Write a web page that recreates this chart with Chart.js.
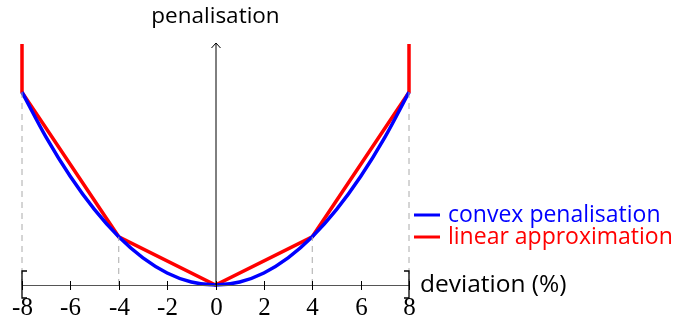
<!DOCTYPE html>
<html>
<head>
<meta charset="utf-8">
<script src="https://cdn.jsdelivr.net/npm/chart.js@4"></script>
<style>
  html, body { margin: 0; padding: 0; background: #fff; }
  #wrap { width: 675px; height: 320px; }
</style>
</head>
<body>
<div id="wrap"><canvas id="penChart" width="675" height="320"></canvas></div>
<script>
// deviation (%) and penalisation values
const convexX = [-8, -7, -6, -5, -4, -3, -2, -1, 0, 1, 2, 3, 4, 5, 6, 7, 8];
const convexY = [64, 49, 36, 25, 16, 9, 4, 1, 0, 1, 4, 9, 16, 25, 36, 49, 64];
const linearX = [-8, -8, -4, 0, 4, 8, 8];
const linearY = [80, 64, 16, 0, 16, 64, 80];
const guideX = [-8, -4, 4, 8];
const guideY = [64, 16, 16, 64];
const xTicks = [-8, -6, -4, -2, 0, 2, 4, 6, 8];
const seriesNames = ['convex penalisation', 'linear approximation'];
const seriesColors = ['#0000ff', '#ff0000'];

const SANS = '"Open Sans", "DejaVu Sans", sans-serif';
const SERIF = '"Liberation Serif", "DejaVu Serif", serif';

const toPoints = (xs, ys) => xs.map((x, i) => ({ x: x, y: ys[i] }));

// dashed helper lines from the axis up to the knots
const guideSets = guideX.map((x, i) => ({
    data: [{ x: x, y: 0 }, { x: x, y: guideY[i] }],
    borderColor: '#aaaaaa',
    borderWidth: 1,
    borderDash: [6, 5],
    pointRadius: 0,
    clip: false
}));

const axesPlugin = {
    id: 'axesPlugin',
    afterDatasetsDraw(chart) {
        const ctx = chart.ctx;
        const xs = chart.scales.x, ys = chart.scales.y;
        const y0 = ys.getPixelForValue(0);
        const x0 = xs.getPixelForValue(0);
        const xl = xs.getPixelForValue(-8), xr = xs.getPixelForValue(8);
        ctx.save();

        // x axis line
        ctx.strokeStyle = '#555555';
        ctx.lineWidth = 1;
        ctx.beginPath();
        ctx.moveTo(xl, y0 + 0.5);
        ctx.lineTo(xr, y0 + 0.5);
        ctx.stroke();

        // tick marks and labels
        ctx.fillStyle = '#000';
        ctx.font = '25px ' + SERIF;
        ctx.textAlign = 'center';
        ctx.textBaseline = 'alphabetic';
        xTicks.forEach(t => {
            const px = Math.round(xs.getPixelForValue(t)) + 0.5;
            ctx.strokeStyle = '#000';
            ctx.beginPath();
            ctx.moveTo(px, y0 - 4);
            ctx.lineTo(px, y0 + 5);
            ctx.stroke();
            ctx.fillText(String(t), px, y0 + 30);
        });

        // interval brackets
        ctx.strokeStyle = '#000';
        ctx.lineWidth = 1.3;
        [[xl, 1], [xr, -1]].forEach(([bx, dir]) => {
            ctx.beginPath();
            ctx.moveTo(bx + dir * 5, y0 - 14);
            ctx.lineTo(bx, y0 - 14);
            ctx.lineTo(bx, y0 + 13);
            ctx.lineTo(bx + dir * 5, y0 + 13);
            ctx.stroke();
        });

        // y axis with arrow
        const yTop = ys.getPixelForValue(80) - 1;
        ctx.lineWidth = 1;
        ctx.strokeStyle = '#000';
        ctx.beginPath();
        ctx.moveTo(x0 + 0.5, y0);
        ctx.lineTo(x0 + 0.5, yTop);
        ctx.moveTo(x0 - 4, yTop + 5);
        ctx.lineTo(x0 + 0.5, yTop);
        ctx.lineTo(x0 + 5, yTop + 5);
        ctx.stroke();

        // axis titles
        ctx.font = '22.5px ' + SANS;
        ctx.textAlign = 'center';
        ctx.textBaseline = 'middle';
        ctx.fillText('penalisation', x0, 17);
        ctx.textAlign = 'left';
        ctx.font = '24.5px ' + SANS;
        ctx.fillText('deviation (%)', xr + 11, y0);

        // legend
        ctx.font = '23px ' + SANS;
        seriesNames.forEach((name, i) => {
            const ly = 215 + i * 22;
            ctx.strokeStyle = seriesColors[i];
            ctx.lineWidth = 3;
            ctx.beginPath();
            ctx.moveTo(xr + 5, ly);
            ctx.lineTo(xr + 31, ly);
            ctx.stroke();
            ctx.fillStyle = seriesColors[i];
            ctx.fillText(name, xr + 39, ly);
        });
        ctx.restore();
    }
};

new Chart(document.getElementById('penChart'), {
    type: 'line',
    data: {
        datasets: guideSets.concat([{
            label: seriesNames[0],
            data: toPoints(convexX, convexY),
            borderColor: seriesColors[0],
            borderWidth: 3.5,
            pointRadius: 0,
            cubicInterpolationMode: 'monotone',
            clip: false
        }, {
            label: seriesNames[1],
            data: toPoints(linearX, linearY),
            borderColor: seriesColors[1],
            borderWidth: 3.5,
            pointRadius: 0,
            tension: 0,
            clip: false
        }])
    },
    plugins: [axesPlugin],
    options: {
        responsive: false,
        animation: false,
        layout: { padding: { left: 22, right: 266, top: 44, bottom: 35 } },
        plugins: { legend: { display: false }, tooltip: { enabled: false } },
        scales: {
            x: { type: 'linear', min: -8, max: 8, display: false },
            y: { type: 'linear', min: 0, max: 80, display: false }
        }
    }
});
</script>
</body>
</html>
